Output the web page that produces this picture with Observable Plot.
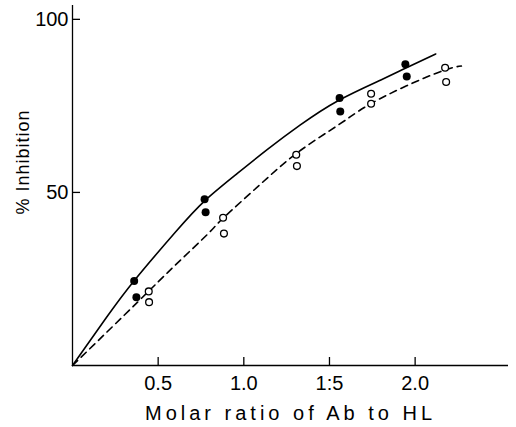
<!DOCTYPE html>
<html>
<head>
<meta charset="utf-8">
<script src="https://cdn.jsdelivr.net/npm/d3@7"></script>
<script src="https://cdn.jsdelivr.net/npm/@observablehq/plot@0.6"></script>
<style>
  html, body { margin: 0; padding: 0; background: #fff; }
  g[aria-description="xlabel"] text { letter-spacing: 4px; }
  g[aria-description="ylabel"] text { letter-spacing: 1px; }
</style>
</head>
<body>
<div id="chart"></div>
<script>
// Filled circles (upper series)
const filledX = [0.36, 0.373, 0.771, 0.777, 1.559, 1.563, 1.943, 1.951];
const filledY = [24.4, 19.7, 48.0, 44.3, 77.3, 73.4, 87.0, 83.5];
// Open circles (lower series)
const openX = [0.445, 0.447, 0.879, 0.884, 1.306, 1.31, 1.743, 1.743, 2.175, 2.181];
const openY = [21.4, 18.3, 42.7, 38.1, 60.9, 57.6, 78.5, 75.6, 86.0, 81.9];
// Solid fitted curve
const solidX = [0, 0.2, 0.36, 0.6, 0.77, 0.95, 1.14, 1.33, 1.55, 1.8, 1.94, 2.12];
const solidY = [0, 14, 24.5, 38.5, 47.5, 55, 62.5, 69.5, 76.5, 82.5, 85.8, 90];
// Dashed fitted curve
const dashX = [0, 0.38, 0.6, 0.79, 0.88, 1.1, 1.3, 1.5, 1.62, 1.74, 1.95, 2.17, 2.27];
const dashY = [0, 18.3, 29, 38, 42.6, 52.5, 61, 67.8, 71.8, 75.6, 80.8, 85.3, 86.5];
// Ticks
const xTicks = [0.5, 1.0, 1.5, 2.0];
const xTickLabels = ["0.5", "1.0", "1:5", "2.0"];
const yTicks = [50, 100];
const yTickLabels = ["50", "100"];
const xLabel = "Molar ratio of Ab to HL";
const yLabel = "% Inhibition";

const filled = filledX.map((x, i) => ({x, y: filledY[i]}));
const open = openX.map((x, i) => ({x, y: openY[i]}));
const solid = solidX.map((x, i) => ({x, y: solidY[i]}));
const dash = dashX.map((x, i) => ({x, y: dashY[i]}));

// inward tick length, expressed in data units (~8px)
const xDomain = [0, 2.545];
const yDomain = [0, 104];
const tickLenY = 8 * (yDomain[1] - yDomain[0]) / 360;
const tickLenX = 8 * (xDomain[1] - xDomain[0]) / 436;

const chart = Plot.plot({
  width: 516,
  height: 427,
  marginLeft: 72,
  marginRight: 8,
  marginTop: 5,
  marginBottom: 62,
  style: {fontFamily: "Liberation Sans", fontSize: "20px", color: "black", background: "white"},
  x: {domain: xDomain},
  y: {domain: yDomain},
  marks: [
    Plot.ruleY([0], {stroke: "black", strokeWidth: 1.3}),
    Plot.ruleX([0], {stroke: "black", strokeWidth: 1.3}),
    Plot.ruleX(xTicks, {x: d => d, y1: 0, y2: tickLenY, stroke: "black", strokeWidth: 1.3}),
    Plot.ruleY(yTicks, {y: d => d, x1: 0, x2: tickLenX, stroke: "black", strokeWidth: 1.3}),
    Plot.axisX(xTicks, {
      tickSize: 0, tickPadding: 10,
      tickFormat: d => xTickLabels[xTicks.indexOf(d)],
      fontSize: 20, label: null
    }),
    Plot.axisY(yTicks, {
      tickSize: 0, tickPadding: 4,
      tickFormat: d => yTickLabels[yTicks.indexOf(d)],
      fontSize: 20, label: null
    }),
    Plot.line(solid, {x: "x", y: "y", curve: "natural", stroke: "black", strokeWidth: 1.6}),
    Plot.line(dash, {x: "x", y: "y", curve: "natural", stroke: "black", strokeWidth: 1.6, strokeDasharray: "7,5"}),
    Plot.dot(filled, {x: "x", y: "y", r: 4, fill: "black", stroke: "none"}),
    Plot.dot(open, {x: "x", y: "y", r: 3.4, fill: "white", stroke: "black", strokeWidth: 1.3}),
    Plot.text([xLabel], {frameAnchor: "bottom", textAnchor: "middle", dy: 54, lineAnchor: "bottom", fontSize: 20, ariaDescription: "xlabel"}),
    Plot.text([yLabel], {frameAnchor: "left", textAnchor: "middle", rotate: -90, dx: -49, dy: -23.5, lineAnchor: "middle", fontSize: 18, ariaDescription: "ylabel"})
  ]
});
document.getElementById("chart").appendChild(chart);
</script>
</body>
</html>
